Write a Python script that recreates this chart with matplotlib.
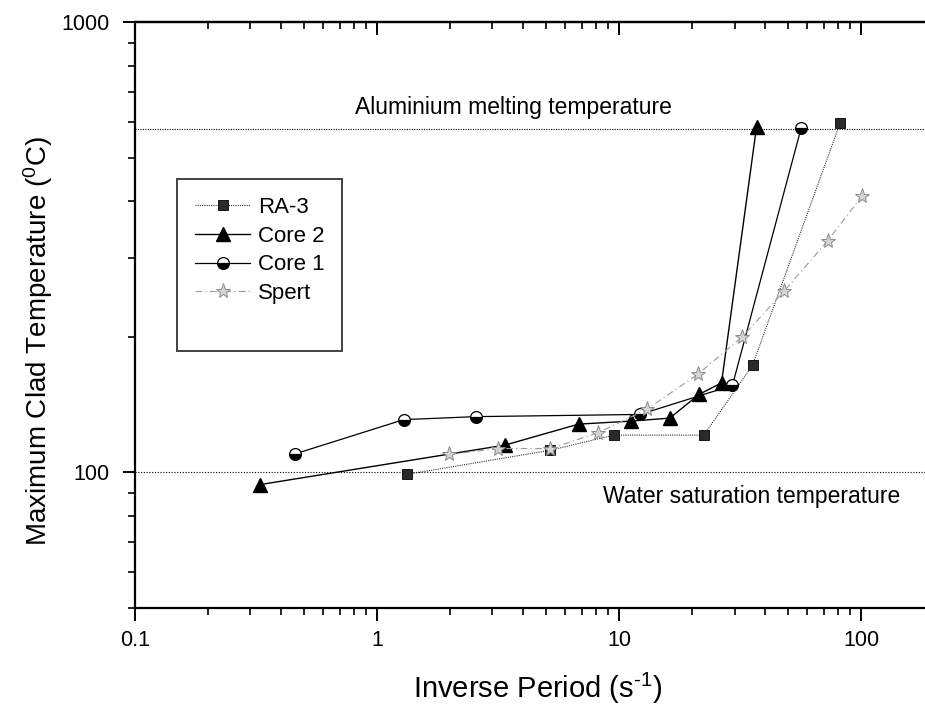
import matplotlib
matplotlib.use("Agg")
import matplotlib.pyplot as plt
import matplotlib.ticker as ticker
from matplotlib.lines import Line2D

plt.rcParams['font.family'] = ['Liberation Sans', 'DejaVu Sans']
plt.rcParams['mathtext.fontset'] = 'custom'
plt.rcParams['mathtext.rm'] = 'Liberation Sans'
plt.rcParams['mathtext.default'] = 'regular'

# data
ra3_x = [1.33, 5.2, 9.5, 22.4, 35.6, 82]
ra3_y = [99, 112, 121, 121, 173, 598]

core2_x = [0.33, 3.38, 6.8, 11.2, 16.2, 21.4, 26.5, 37]
core2_y = [94, 115, 128, 130, 132, 149, 158, 586]

core1_x = [0.46, 1.29, 2.56, 12.2, 29.4, 56.5]
core1_y = [110, 131, 133, 134.5, 156, 581]

spert_x = [1.98, 3.17, 5.2, 8.2, 13.0, 21.1, 32.3, 48.2, 72.8, 100.6]
spert_y = [109.6, 113, 113, 122.5, 138, 165, 200, 253, 327, 410]

al_melt = 580
water_sat = 100

fig = plt.figure(figsize=(9.25, 7.06), dpi=100)
ax = fig.add_axes([0.1459, 0.1388, 0.8638, 0.830])

ax.axhline(al_melt, color='black', lw=0.8, ls=(0, (1, 1.2)), zorder=1)
ax.axhline(water_sat, color='black', lw=0.8, ls=(0, (1, 1.5)), zorder=1)

ax.plot(ra3_x, ra3_y, color='#333333', lw=0.8, ls=(0, (1, 1)),
        marker='s', ms=7.5, mfc='#2a2a2a', mec='black', mew=0.6, label='RA-3')
ax.plot(core2_x, core2_y, color='black', lw=1.0, ls='-',
        marker='^', ms=10.5, mfc='black', mec='black', label='Core 2')
ax.plot(core1_x, core1_y, color='black', lw=0.9, ls='-',
        marker='o', ms=8.5, fillstyle='bottom', mfc='black', mfcalt='white',
        mec='black', mew=0.9, label='Core 1')
ax.plot(spert_x, spert_y, color='#9a9a9a', lw=0.8, ls=(0, (6, 3, 1, 3)),
        marker='*', ms=11, mfc='#d4d4d4', mec='#8a8a8a', mew=0.7, label='Spert')

ax.set_xscale('log')
ax.set_yscale('log')
ax.set_xlim(0.1, 200)
ax.set_ylim(50, 1000)

fmt = ticker.FuncFormatter(lambda v, p: '{:g}'.format(v))
ax.xaxis.set_major_locator(ticker.LogLocator(base=10))
ax.xaxis.set_minor_locator(ticker.LogLocator(base=10, subs=range(2, 10)))
ax.xaxis.set_major_formatter(fmt)
ax.xaxis.set_minor_formatter(ticker.NullFormatter())
ax.yaxis.set_major_locator(ticker.FixedLocator([100, 1000]))
ax.yaxis.set_minor_locator(ticker.LogLocator(base=10, subs=range(2, 10)))
ax.yaxis.set_major_formatter(fmt)
ax.yaxis.set_minor_formatter(ticker.NullFormatter())

ax.tick_params(which='major', direction='out', length=9, width=1.4,
               labelsize=15.5, pad=7)
ax.tick_params(axis='y', which='major', pad=9)
ax.tick_params(which='minor', direction='out', length=5, width=1.2)

top = ax.secondary_xaxis('top')
top.xaxis.set_major_locator(ticker.LogLocator(base=10))
top.xaxis.set_minor_locator(ticker.LogLocator(base=10, subs=range(2, 10)))
top.tick_params(which='major', direction='in', length=9, width=1.4, labeltop=False)
top.tick_params(which='minor', direction='in', length=5, width=1.2)
top.spines['top'].set_linewidth(1.6)

for s in ['left', 'bottom', 'top']:
    ax.spines[s].set_linewidth(1.6)

ax.text(0.2753, 0.843, 'Aluminium melting temperature', transform=ax.transAxes,
        fontsize=16.5, ha='left', va='baseline')
ax.text(0.5857, 0.179, 'Water saturation temperature', transform=ax.transAxes,
        fontsize=16.5, ha='left', va='baseline')

fig.text(0.581, 0.0255, r'Inverse Period (s$^{\text{-}1}$)', fontsize=21,
         ha='center', va='center')
fig.text(0.041, 0.517, r'Maximum Clad Temperature ($^{0}$C)', fontsize=20,
         ha='center', va='center', rotation=90)

handles, labels = ax.get_legend_handles_labels()
handles.append(Line2D([], [], ls='none'))
labels.append(' ')
leg = ax.legend(handles, labels, loc='upper left', bbox_to_anchor=(0.0526, 0.732),
                borderaxespad=0, fontsize=16, frameon=True, fancybox=False,
                edgecolor='black', handlelength=2.5, handletextpad=0.35,
                labelspacing=0.35, borderpad=0.8)
leg.get_frame().set_linewidth(1.3)

fig.savefig('out.png', dpi=100)
